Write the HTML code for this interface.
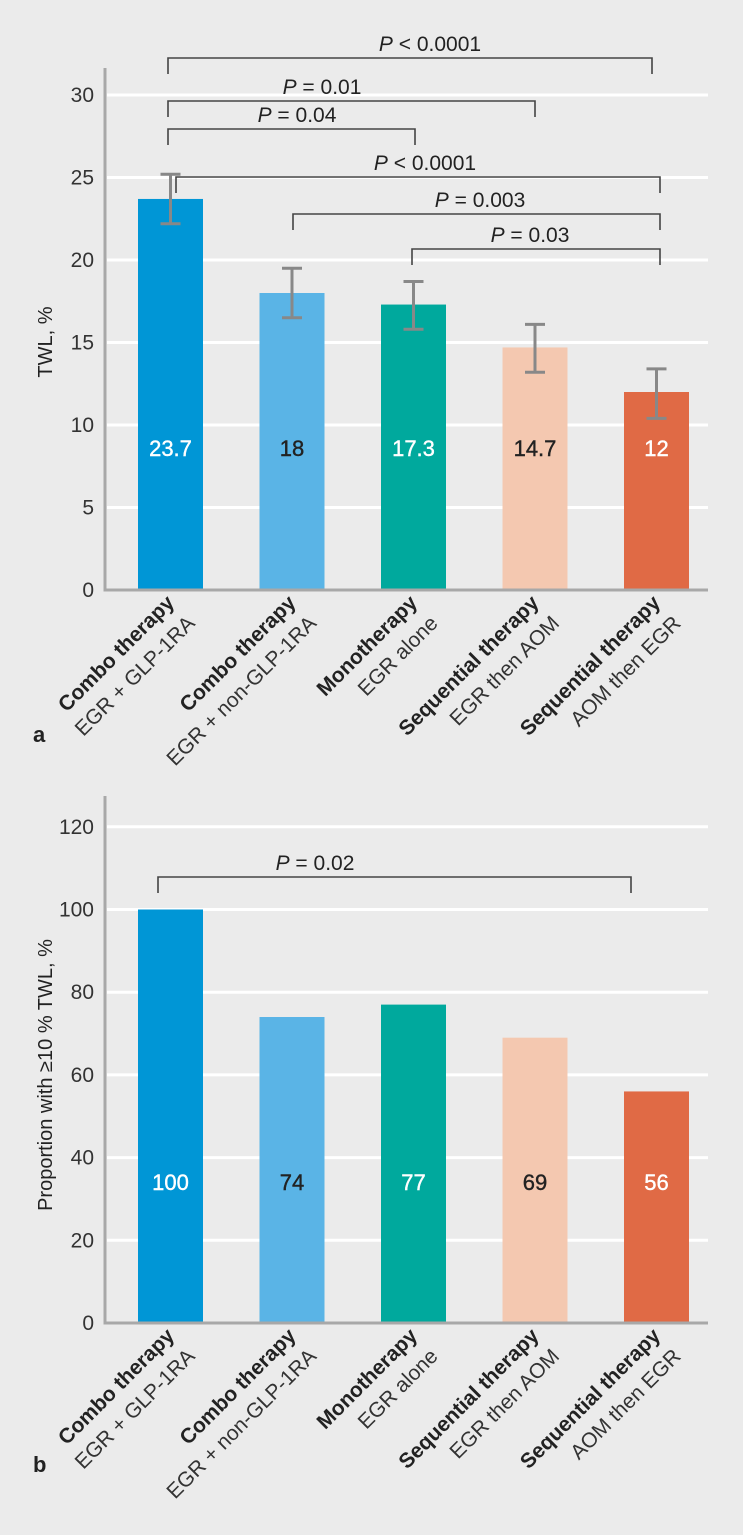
<!DOCTYPE html>
<html><head><meta charset="utf-8"><style>
html,body{margin:0;padding:0;background:#ebebeb;}
svg{display:block;font-family:"Liberation Sans",sans-serif;}
</style></head><body>
<svg id="root" width="743" height="1535" viewBox="0 0 743 1535">
<rect width="743" height="1535" fill="#ebebeb"/>
</svg>
<script>
const categoriesBold = ["Combo therapy","Combo therapy","Monotherapy","Sequential therapy","Sequential therapy"];
const categoriesSub = ["EGR + GLP-1RA","EGR + non-GLP-1RA","EGR alone","EGR then AOM","AOM then EGR"];
const twlValues = [23.7, 18, 17.3, 14.7, 12];
const twlLabels = ["23.7","18","17.3","14.7","12"];
const twlErrLow = [22.2, 16.5, 15.8, 13.2, 10.4];
const twlErrHigh = [25.2, 19.5, 18.7, 16.1, 13.4];
const twlTicks = [0,5,10,15,20,25,30];
const propValues = [100, 74, 77, 69, 56];
const propLabels = ["100","74","77","69","56"];
const propTicks = [0,20,40,60,80,100,120];
const colors = ["#0096d6","#5ab4e6","#00a99d","#f4c8b0","#e06a45"];
const labelColors = ["#fff","#222","#fff","#222","#fff"];
const twlBrackets = [[0,4,"< 0.0001"],[0,3,"= 0.01"],[0,2,"= 0.04"],[0,4,"< 0.0001"],[1,4,"= 0.003"],[2,4,"= 0.03"]];
const propBrackets = [[0,4,"= 0.02"]];

const NS="http://www.w3.org/2000/svg";
const root=document.getElementById('root');
function mk(tag,attrs,parent,text){const e=document.createElementNS(NS,tag);for(const k in attrs)e.setAttribute(k,attrs[k]);if(text!==undefined)e.textContent=text;(parent||root).appendChild(e);return e;}
const barX=i=>138+i*121.5;
const barW=65;

function chart(opts){
  const g=mk('g',{});
  
  
  const y=v=>opts.y0-(v-opts.vmin)*opts.scale;
  opts.ticks.forEach(t=>{
    if(t>0){const l=mk('line',{x1:107,x2:708,y1:y(t),y2:y(t),stroke:'#fff','stroke-width':3},g);
      }
    const tx=mk('text',{x:94,y:y(t)+7,'text-anchor':'end','font-size':21,fill:'#333'},g,String(t));
    
  });
  opts.values.forEach((v,i)=>{
    const r=mk('rect',{x:barX(i),y:y(v),width:barW,height:opts.y0-y(v),fill:colors[i]},g);
    
    const t=mk('text',{x:barX(i)+barW/2,y:opts.labelY,'text-anchor':'middle','font-size':22,fill:labelColors[i],stroke:labelColors[i],'stroke-width':0.4},g,opts.labels[i]);
    
    const lg=mk('g',{transform:`translate(${barX(i)+barW/2+5},${opts.y0+14}) rotate(-45)`},g);
    
    mk('text',{x:0,y:0,'text-anchor':'end','font-size':21,'font-weight':'bold',fill:'#222'},lg,categoriesBold[i]);
    mk('text',{x:0,y:29,'text-anchor':'end','font-size':21,fill:'#333'},lg,categoriesSub[i]);
  });
  if(opts.errLow){opts.errLow.forEach((lo,i)=>{
    const cx=barX(i)+barW/2;
    const eg=mk('g',{stroke:'#888','stroke-width':3},g);
    
    mk('line',{x1:cx,x2:cx,y1:y(lo),y2:y(opts.errHigh[i])},eg);
    mk('line',{x1:cx-10,x2:cx+10,y1:y(lo),y2:y(lo)},eg);
    mk('line',{x1:cx-10,x2:cx+10,y1:y(opts.errHigh[i]),y2:y(opts.errHigh[i])},eg);
  });}
  opts.brackets.forEach((b,k)=>{
    const p=opts.bPos[k];
    const x1=p[0],x2=p[1],by=p[2];
    const bg=mk('g',{},g);
    
    mk('path',{d:`M${x1} ${by+16}V${by}H${x2}V${by+16}`,fill:'none',stroke:'#444','stroke-width':1.6},bg);
    const t=mk('text',{x:p[3],y:by-7,'text-anchor':'middle','font-size':21,fill:'#222'},bg);
    mk('tspan',{'font-style':'italic'},t,'P');
    mk('tspan',{},t,' '+b[2]);
  });
  const ax=mk('path',{d:`M105 ${opts.axTop}V${opts.y0}H708`,fill:'none',stroke:'#a8a8a8','stroke-width':3},g);
  
  const yt=mk('text',{transform:`translate(52,${opts.titleY}) rotate(-90)`,'text-anchor':'middle','font-size':20,fill:'#222'},g,opts.title);
  
  const pl=mk('text',{x:33,y:opts.panelY,'font-size':22,'font-weight':'bold',fill:'#222'},g,opts.panel);
  
}
chart({name:'twl-chart',values:twlValues,labels:twlLabels,ticks:twlTicks,vmin:0,y0:590,scale:16.5,labelY:456,
  errLow:twlErrLow,errHigh:twlErrHigh,brackets:twlBrackets,
  bPos:[[168,652,58,430],[168,535,101,322],[168,415,129,297],[176,660,177,425],[293,660,214,480],[412,660,249,530]],
  axTop:68,title:'TWL, %',titleY:342,panel:'a',panelY:742});
chart({name:'proportion-chart',values:propValues,labels:propLabels,ticks:propTicks,vmin:0,y0:1323,scale:4.135,labelY:1190,
  brackets:propBrackets,bPos:[[158,631,877,315]],
  axTop:796,title:'Proportion with ≥10 % TWL, %',titleY:1075,panel:'b',panelY:1472});
</script>
</body></html>
